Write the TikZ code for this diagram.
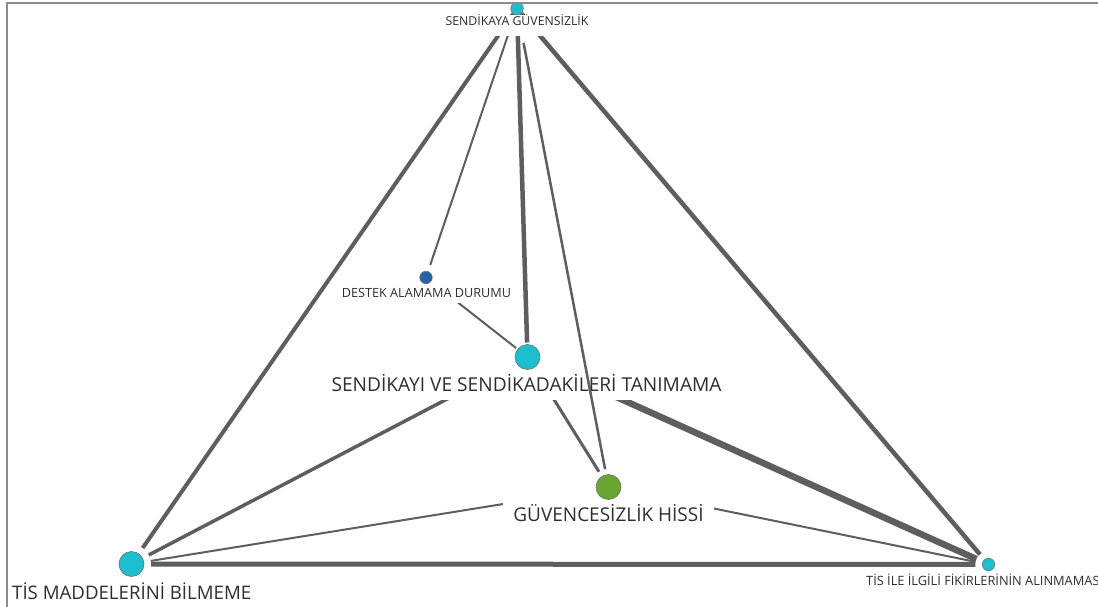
\documentclass[tikz,border=0pt]{standalone}
\usepackage{fontspec}
\setmainfont{Open Sans}
\usetikzlibrary{backgrounds}
\definecolor{cyanN}{HTML}{1BBFCF}
\definecolor{blueN}{HTML}{2563A8}
\definecolor{greenN}{HTML}{6AA532}
\definecolor{edgeC}{HTML}{5E5E5E}
\definecolor{rimC}{HTML}{707070}
\definecolor{txtC}{HTML}{2E2E2E}
\definecolor{frameC}{HTML}{8C8C8C}
\begin{document}
\begin{tikzpicture}[x=1pt,y=-1pt,
  dot/.style={circle,draw=rimC,line width=0.6pt,inner sep=0pt},
  bigdot/.style={dot,minimum size=25pt},
  smalldot/.style={dot,minimum size=12.5pt},
  lab/.style={fill=white,inner ysep=0pt,text=txtC,anchor=base},
  edge/.style={draw=edgeC,line cap=butt}]
\useasboundingbox (0,0) rectangle (1098,607);
% labels (their white boxes hide the ends of the connectors)
\node[lab,font=\fontsize{12.3}{13}\selectfont,inner xsep=3pt,text height=11pt,text depth=10pt] (skl) at (517,26) {SENDİKAYA GÜVENSİZLİK};
\node[lab,font=\fontsize{12.65}{13}\selectfont,inner xsep=2pt,text height=13.5pt,text depth=5.5pt] (dal) at (426.5,297.5) {DESTEK ALAMAMA DURUMU};
\node[lab,font=\fontsize{19.15}{20}\selectfont,inner xsep=3pt,text height=34pt,text depth=9pt] (stl) at (526.5,391) {SENDİKAYI VE SENDİKADAKİLERİ TANIMAMA};
\node[lab,font=\fontsize{19}{20}\selectfont,inner xsep=10pt,text height=34pt,text depth=6pt] (ghl) at (608.5,521) {GÜVENCESİZLİK HİSSİ};
\node[lab,anchor=base west,inner sep=0pt,font=\fontsize{18.65}{20}\selectfont] (tml) at (12,599) {TİS MADDELERİNİ BİLMEME};
\node[lab,anchor=base west,inner sep=0pt,font=\fontsize{12.8}{13}\selectfont] (tal) at (866,585.5) {TİS İLE İLGİLİ FİKİRLERİNİN ALINMAMASI};
% circles
\node[smalldot,fill=cyanN] (sk) at (517,8.5) {};
\node[smalldot,fill=blueN,outer sep=7pt] (da) at (426,277.5) {};
\node[bigdot,fill=cyanN,outer sep=2pt] (st) at (527.5,357) {};
\node[bigdot,fill=greenN,outer sep=5.5pt] (gh) at (608.5,487) {};
\node[bigdot,fill=cyanN,outer sep=7pt] (tm) at (131.5,564) {};
\node[smalldot,fill=cyanN,outer sep=7pt] (ta) at (988.5,564.5) {};
% edges
\begin{scope}[on background layer]
\draw[edge,line width=4pt] (sk) -- (tm);
\draw[edge,line width=2pt] (sk) -- (da);
\draw[edge,line width=4.5pt] (sk) -- (st);
\draw[edge,line width=4.5pt] (sk) -- (ta);
\draw[edge,line width=2pt] (da) -- (st);
\draw[edge,line width=3.5pt] (st) -- (tm);
\draw[edge,line width=3pt] (st) -- (gh);
\draw[edge,line width=6.5pt] (st) -- (ta);
\draw[edge,line width=2pt] (gh) -- (tm);
\draw[edge,line width=2pt] (gh) -- (ta);
\draw[edge,line width=5pt] (tm) -- (ta);
\end{scope}
\draw[edge,line width=2.5pt,shorten <=28.5pt] (sk) -- (gh);
% frame
\draw[frameC,line width=2pt] (7,607) -- (7,3) -- (1098,3);
\end{tikzpicture}
\end{document}
